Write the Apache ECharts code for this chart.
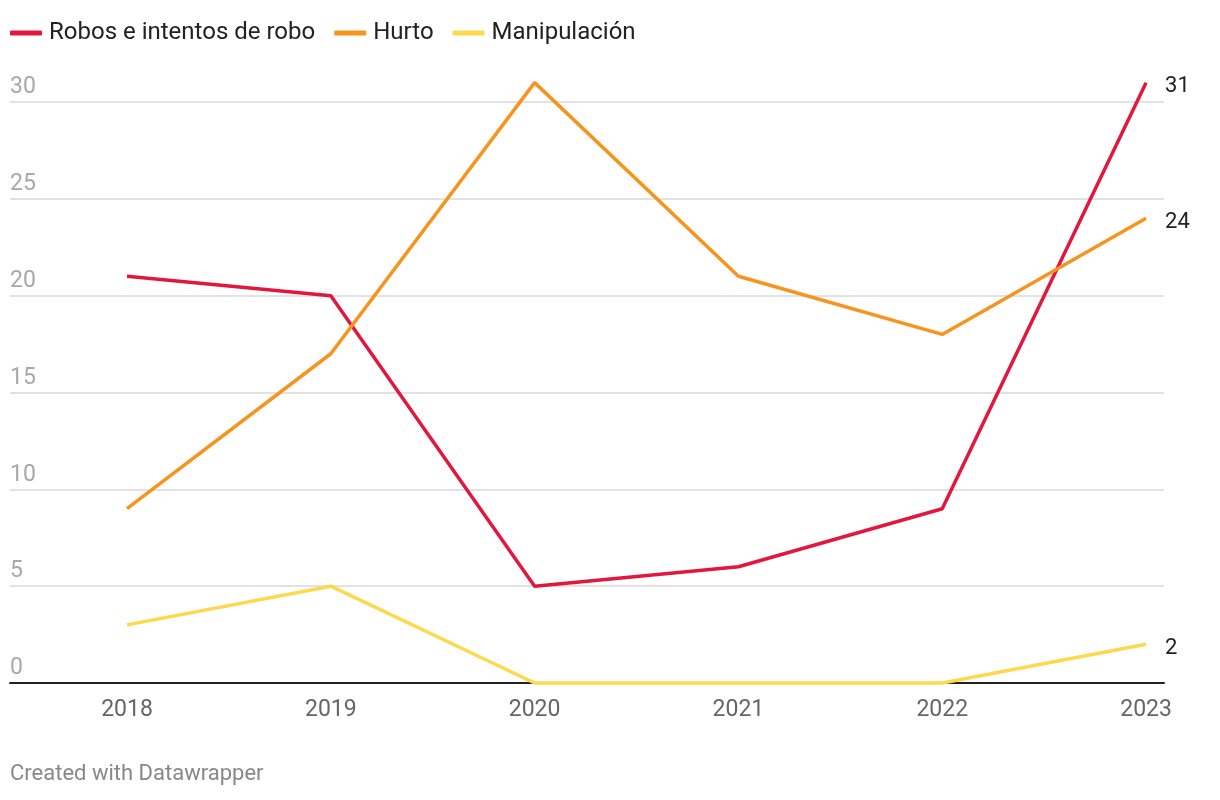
<!DOCTYPE html>
<html><head><meta charset="utf-8">
<script src="https://cdn.jsdelivr.net/npm/echarts@6/dist/echarts.min.js"></script>
<style>html,body{margin:0;padding:0;background:#fff}#c{width:1220px;height:800px}</style>
</head><body><div id="c"></div>
<script>
const years = [2018, 2019, 2020, 2021, 2022, 2023];
const robos = [21, 20, 5, 6, 9, 31];
const hurto = [9, 17, 31, 21, 18, 24];
const manip = [3, 5, 0, 0, 0, 2];
const seriesNames = ['Robos e intentos de robo', 'Hurto', 'Manipulación'];
const colors = ['#e3173e', '#f7941d', '#fdd94e'];
const yTicks = [0, 5, 10, 15, 20, 25, 30];

const chart = echarts.init(document.getElementById('c'));
const mk = (name, vals, color) => ({
  name, type: 'line', data: years.map((y, i) => [y, vals[i]]),
  symbol: 'none', clip: false,
  lineStyle: { color, width: 3.5 }, itemStyle: { color },
  endLabel: { show: true, formatter: p => p.value[1], color: '#222', fontSize: 22, fontFamily: 'Roboto', distance: 19, offset: [0, 4] }
});
chart.setOption({
  textStyle: { fontFamily: 'Roboto' },
  animation: false,
  color: colors,
  legend: {
    left: 5, top: 16, itemWidth: 32, itemHeight: 5, itemGap: 19,
    icon: 'roundRect',
    textStyle: { fontSize: 24, color: '#222', fontFamily: 'Roboto', padding: [0, 0, 0, 2] },
    data: seriesNames
  },
  grid: { left: 10, right: 56, top: 102, bottom: 117, containLabel: false },
  xAxis: {
    type: 'value', min: 2017.426, max: 2023.088,
    axisLine: { show: true, onZero: false, lineStyle: { color: '#222', width: 2 } },
    axisTick: { show: false },
    splitLine: { show: false },
    axisLabel: { customValues: years, formatter: v => String(v), color: '#666', fontSize: 23, margin: 16, fontFamily: 'Roboto' }
  },
  yAxis: {
    type: 'value', min: 0, max: 30, interval: 5,
    axisLine: { show: false }, axisTick: { show: false },
    splitLine: { lineStyle: { color: '#e2e2e2', width: 2 } },
    axisLabel: {
      inside: true, margin: 0, verticalAlign: 'bottom', padding: [0, 0, 3, 0],
      color: '#a8a8a8', fontSize: 23, fontFamily: 'Roboto',
      formatter: v => yTicks.includes(v) ? String(v) : ''
    }
  },
  series: [mk(seriesNames[0], robos, colors[0]), mk(seriesNames[1], hurto, colors[1]), mk(seriesNames[2], manip, colors[2])],
  graphic: [{ type: 'text', left: 10, top: 763, style: { text: 'Created with Datawrapper', fill: '#888', fontSize: 22, fontFamily: 'Roboto' } }]
});
</script></body></html>
